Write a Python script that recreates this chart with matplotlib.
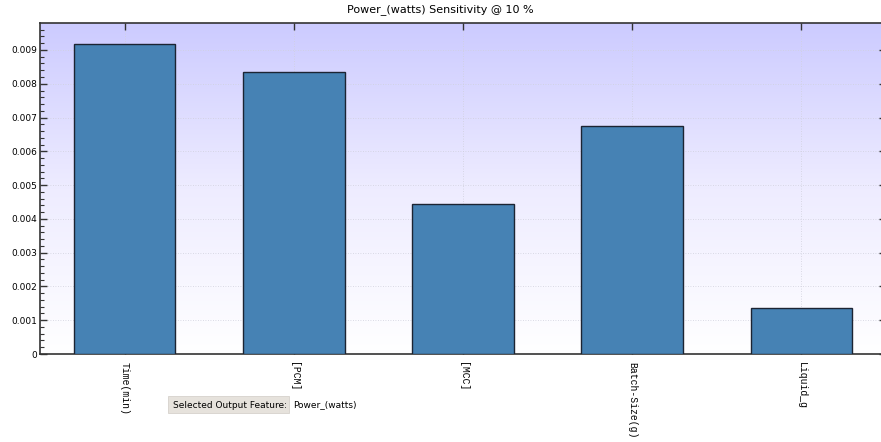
import numpy as np
import matplotlib
matplotlib.use("Agg")
import matplotlib.pyplot as plt
from matplotlib.colors import LinearSegmentedColormap
from matplotlib.ticker import MultipleLocator
from matplotlib.patches import FancyBboxPatch

features = ["Time(min)", "[PCM]", "[MCC]", "Batch-Size(g)", "Liquid_g"]
sensitivity = [0.00917, 0.00834, 0.00445, 0.00676, 0.00136]
y_ticks = [0, 0.001, 0.002, 0.003, 0.004, 0.005, 0.006, 0.007, 0.008, 0.009]
y_tick_labels = ["0", "0.001", "0.002", "0.003", "0.004", "0.005", "0.006", "0.007", "0.008", "0.009"]
title_text = "Power_(watts) Sensitivity @ 10 %"
output_feature = "Power_(watts)"

W, H = 881, 442
fig = plt.figure(figsize=(W / 100, H / 100), dpi=100)
fig.patch.set_facecolor("white")

ax = fig.add_axes([40 / W, 1 - 354 / H, 846 / W, (354 - 23.3) / H])

x = np.arange(len(features))
ax.set_xlim(-0.5, len(features) - 0.5)
ax.set_ylim(0, 0.00979)

# vertical gradient background: lavender at top fading to white
grad = np.linspace(0, 1, 256).reshape(-1, 1)
cmap = LinearSegmentedColormap.from_list("bg", ["#ffffff", "#eeecff", "#cccbff"])
ax.imshow(grad, aspect="auto", cmap=cmap, origin="lower",
          extent=[-0.5, len(features) - 0.5, 0, 0.00979], zorder=0)

ax.bar(x, sensitivity, width=0.6, color="#4682b4", edgecolor="#1c2433",
       linewidth=1.0, zorder=3)

ax.set_xticks(x)
ax.set_xticklabels(features, rotation=270, family="Liberation Mono",
                   fontsize=7, va="top", ha="center")
ax.set_yticks(y_ticks)
ax.set_yticklabels(y_tick_labels, fontsize=6.5)
ax.yaxis.set_minor_locator(MultipleLocator(0.0002))

ax.tick_params(axis="both", which="both", direction="in", colors="#333333",
               top=True, right=True, labelcolor="black")
ax.tick_params(axis="y", which="major", length=5, width=1)
ax.tick_params(axis="y", which="minor", length=3, width=0.8, right=False)
ax.tick_params(axis="x", which="major", length=5, width=1, pad=6)
ax.tick_params(axis="y", which="major", pad=2)

ax.grid(True, which="major", linestyle=(0, (1, 2)), color="#d0d0dc",
        linewidth=0.6, zorder=1)

for side in ["left", "bottom", "top", "right"]:
    ax.spines[side].set_color("#333333")
    ax.spines[side].set_linewidth(1.2)

fig.text(440 / W, 1 - 10 / H, title_text, ha="center", va="center",
         fontsize=8, family="DejaVu Sans")

# output feature selector
box = FancyBboxPatch((168 / W, 1 - 413 / H), 121 / W, 17 / H,
                     boxstyle="square,pad=0", transform=fig.transFigure,
                     facecolor="#e6e2dc", edgecolor="#d6d2cc", linewidth=0.6)
fig.patches.append(box)
fig.text(173 / W, 1 - 405 / H, "Selected Output Feature:", ha="left",
         va="center", fontsize=6.5, family="DejaVu Sans")
fig.text(293 / W, 1 - 405 / H, output_feature, ha="left", va="center",
         fontsize=6.5, family="DejaVu Sans")

fig.savefig("out.png", dpi=100)
